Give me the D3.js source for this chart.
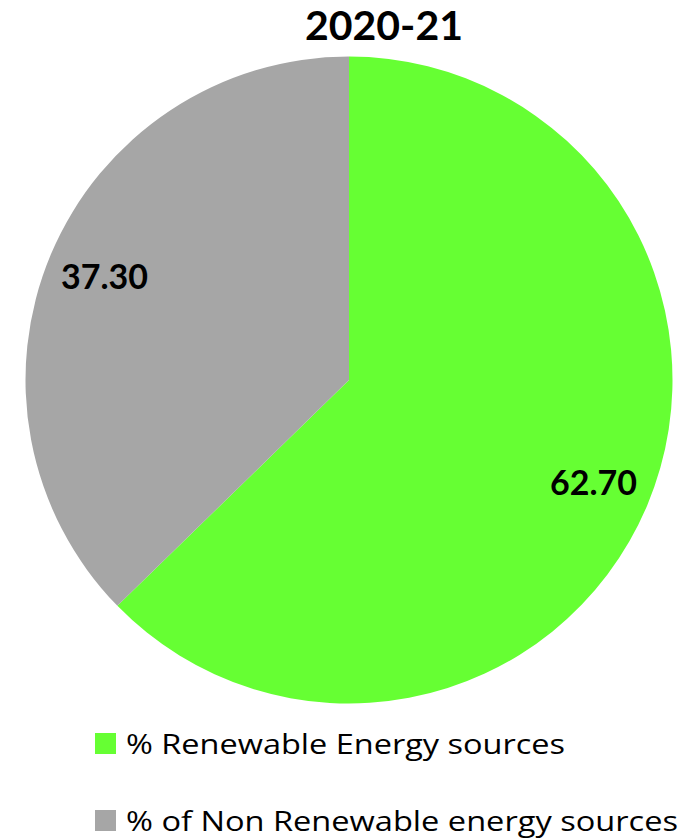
<!DOCTYPE html>
<html><head><meta charset="utf-8">
<script src="https://cdn.jsdelivr.net/npm/d3@7"></script>
<style>body{margin:0;background:#fff}</style>
</head><body>
<svg id="c" width="688" height="838"></svg>
<script>
const title = "2020-21";
const categories = ["% Renewable Energy sources", "% of Non Renewable energy sources"];
const values = [62.70, 37.30];
const colors = ["#66FF33", "#A6A6A6"];

const svg = d3.select("#c");
const font = "Lato, 'Open Sans', sans-serif";
const cx = 349, cy = 380, r = 323.5;

svg.append("text").attr("x", 384).attr("y", 40).attr("text-anchor", "middle")
  .attr("font-family", font).attr("font-weight", "bold").attr("font-size", 41)
  .text(title);

const pie = d3.pie().sort(null).value(d => d)(values);
const arc = d3.arc().innerRadius(0).outerRadius(r);
const labelArc = d3.arc().innerRadius(r * 0.82).outerRadius(r * 0.82);
const g = svg.append("g").attr("transform", `translate(${cx},${cy})`);
g.selectAll("path").data(pie).join("path")
  .attr("d", arc).attr("fill", (d, i) => colors[i]);
g.selectAll("text").data(pie).join("text")
  .attr("transform", d => `translate(${labelArc.centroid(d)})`)
  .attr("text-anchor", "middle").attr("dy", "0.36em")
  .attr("font-family", font).attr("font-weight", "bold").attr("font-size", 34)
  .text(d => d.value.toFixed(2));

const lg = svg.append("g");
const ly = [733, 810];
const lw = [439, 552];
categories.forEach((c, i) => {
  lg.append("rect").attr("x", 95).attr("y", ly[i]).attr("width", 21).attr("height", 21).attr("fill", colors[i]);
  lg.append("text").attr("x", 126).attr("y", ly[i] + 21).attr("font-family", "'Open Sans', Lato, sans-serif")
    .attr("font-size", 28).attr("fill", "#000")
    .attr("textLength", lw[i]).attr("lengthAdjust", "spacingAndGlyphs").text(c);
});
</script>
</body></html>
